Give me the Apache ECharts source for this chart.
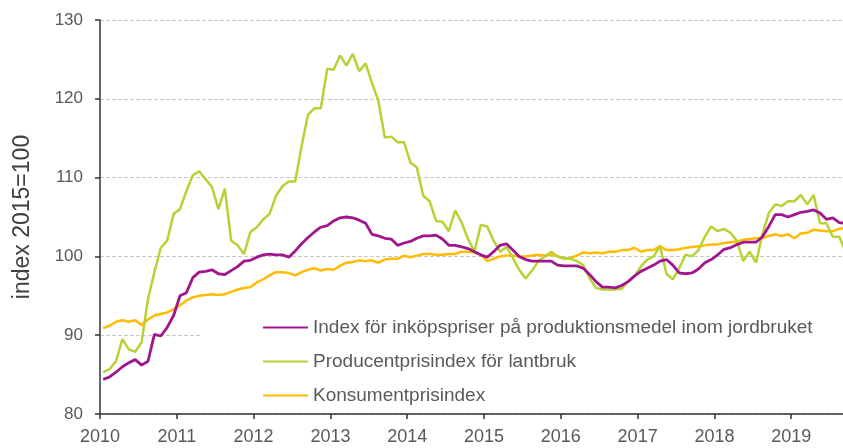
<!DOCTYPE html>
<html>
<head>
<meta charset="utf-8">
<script src="https://cdn.jsdelivr.net/npm/echarts@6/dist/echarts.min.js"></script>
<style>
html,body{margin:0;padding:0;background:#fff;overflow:hidden;}
#chart{width:843px;height:448px;}
</style>
</head>
<body>
<div id="chart"></div>
<script>
// Monthly data, starting January 2010
var startYear = 2010;
var yearTicks = [2010, 2011, 2012, 2013, 2014, 2015, 2016, 2017, 2018, 2019];
var yTicks = [80, 90, 100, 110, 120, 130];

var seriesNames = [
  'Index för inköpspriser på produktionsmedel inom jordbruket',
  'Producentprisindex för lantbruk',
  'Konsumentprisindex'
];

var inkopspriser = [
  84.4, 84.7, 85.3, 86.0, 86.5, 86.9, 86.2, 86.7, 90.1, 89.9, 91.0, 92.5,
  95.0, 95.4, 97.3, 98.0, 98.1, 98.3, 97.8, 97.7, 98.2, 98.7, 99.4, 99.5,
  99.9, 100.2, 100.3, 100.2, 100.2, 99.9, 100.7, 101.6, 102.4, 103.1, 103.7, 103.9,
  104.5, 104.9, 105.0, 104.9, 104.6, 104.2, 102.8, 102.6, 102.3, 102.2, 101.4, 101.7,
  101.9, 102.3, 102.6, 102.6, 102.7, 102.2, 101.4, 101.4, 101.2, 101.0, 100.6, 100.2,
  99.9, 100.6, 101.4, 101.6, 100.8, 100.0, 99.6, 99.4, 99.4, 99.4, 99.4, 98.9,
  98.8, 98.8, 98.8, 98.5, 97.7, 96.8, 96.1, 96.1, 96.0, 96.3, 96.8, 97.5,
  98.1, 98.5, 98.9, 99.4, 99.6, 98.9, 97.9, 97.8, 97.9, 98.4, 99.2, 99.6,
  100.2, 100.9, 101.1, 101.5, 101.8, 101.8, 101.8, 102.5, 103.8, 105.3, 105.3, 105.0,
  105.3, 105.6, 105.7, 105.9, 105.5, 104.7, 104.9, 104.3, 104.2
];

var producentpris = [
  85.3, 85.7, 86.7, 89.5, 88.2, 87.9, 89.1, 94.6, 98.0, 101.1, 102.0, 105.4,
  106.0, 108.3, 110.3, 110.8, 109.8, 108.8, 106.0, 108.6, 102.0, 101.4, 100.3, 103.1,
  103.7, 104.7, 105.4, 107.7, 108.9, 109.5, 109.5, 114.0, 118.0, 118.8, 118.8, 123.8,
  123.7, 125.5, 124.2, 125.7, 123.5, 124.5, 122.0, 119.7, 115.1, 115.2, 114.5, 114.5,
  111.9, 111.3, 107.7, 107.0, 104.5, 104.4, 103.2, 105.8, 104.3, 102.2, 100.6, 104.0,
  103.8, 102.0, 100.6, 101.2, 99.8, 98.3, 97.2, 98.2, 99.4, 100.0, 100.6, 100.0,
  99.8, 99.7, 99.4, 98.9, 97.2, 96.0, 95.8, 95.8, 95.8, 95.9, 96.8, 97.5,
  98.7, 99.6, 100.0, 101.3, 97.8, 97.1, 98.5, 100.2, 100.0, 100.8, 102.5, 103.8,
  103.2, 103.5, 103.0, 102.0, 99.4, 100.6, 99.2, 102.8, 105.5, 106.6, 106.4, 107.0,
  107.0, 107.8, 106.6, 107.8, 104.2, 104.2, 102.5, 102.5, 100.6
];

var konsumentpris = [
  90.9, 91.2, 91.7, 91.9, 91.7, 91.9, 91.3, 92.0, 92.5, 92.7, 92.9, 93.3,
  93.8, 94.4, 94.8, 95.0, 95.1, 95.2, 95.1, 95.2, 95.5, 95.8, 96.0, 96.1,
  96.7, 97.1, 97.6, 98.0, 98.0, 97.9, 97.6, 98.0, 98.3, 98.5, 98.2, 98.4,
  98.3, 98.8, 99.2, 99.3, 99.5, 99.4, 99.5, 99.2, 99.6, 99.7, 99.7, 100.1,
  99.9, 100.1, 100.3, 100.3, 100.2, 100.2, 100.3, 100.3, 100.6, 100.6, 100.5, 100.2,
  99.4, 99.7, 100.0, 100.1, 100.1, 100.0, 100.0, 100.1, 100.2, 100.1, 100.2, 100.0,
  99.7, 99.8, 100.1, 100.5, 100.4, 100.5, 100.4, 100.6, 100.6, 100.8, 100.8, 101.1,
  100.6, 100.8, 100.8, 101.3, 100.8, 100.8, 100.9, 101.1, 101.2, 101.3, 101.4, 101.5,
  101.5, 101.7, 101.8, 101.9, 102.1, 102.2, 102.3, 102.3, 102.6, 102.8, 102.6, 102.8,
  102.3, 102.9, 103.0, 103.4, 103.3, 103.2, 103.2, 103.5, 103.6
];

var colors = ['#a0168f', '#b5d334', '#ffbc00'];

function toPairs(values) {
  return values.map(function (v, i) { return [startYear + (i + 0.5) / 12, v]; });
}

var chart = echarts.init(document.getElementById('chart'), null, {renderer: 'canvas'});
var textColor = '#595959';
var fontFam = '"Liberation Sans", Arial, sans-serif';

chart.setOption({
  animation: false,
  backgroundColor: '#ffffff',
  grid: { left: 100, top: 20, bottom: 34, right: 0 },
  xAxis: {
    type: 'value',
    min: yearTicks[0],
    max: 2019.674,
    interval: 1,
    z: 6,
    axisLine: { show: true, lineStyle: { color: '#333333', width: 1.5 } },
    axisTick: { show: true, length: 5, customValues: yearTicks, lineStyle: { color: '#333333', width: 1.5 } },
    axisLabel: {
      color: textColor, fontSize: 18, fontFamily: fontFam, margin: 14,
      customValues: yearTicks,
      formatter: function (v) { return String(Math.round(v)); }
    },
    splitLine: { show: false }
  },
  yAxis: {
    type: 'value',
    min: yTicks[0],
    max: yTicks[yTicks.length - 1],
    interval: 10,
    name: 'index 2015=100',
    nameLocation: 'middle',
    nameGap: 66,
    nameRotate: 90,
    nameTextStyle: { color: '#404040', fontSize: 23, fontFamily: fontFam },
    axisLine: { show: true, lineStyle: { color: '#333333', width: 1.5 } },
    axisTick: { show: true, length: 5, lineStyle: { color: '#333333', width: 1.5 } },
    axisLabel: { color: textColor, fontSize: 17, fontFamily: fontFam, margin: 17 },
    splitLine: { show: true, lineStyle: { color: '#c8c8c8', type: 'dashed', width: 1 } }
  },
  legend: {
    orient: 'vertical',
    left: 200,
    top: 308,
    padding: [10, 60, 4, 62],
    backgroundColor: '#ffffff',
    itemWidth: 45,
    itemHeight: 14,
    itemGap: 15,
    itemStyle: { opacity: 0 },
    textStyle: { color: textColor, fontSize: 19, fontFamily: fontFam },
    data: seriesNames
  },
  series: [
    { name: seriesNames[2], type: 'line', data: toPairs(konsumentpris), symbol: 'none', z: 2,
      lineStyle: { color: colors[2], width: 2.5 }, itemStyle: { color: colors[2] } },
    { name: seriesNames[1], type: 'line', data: toPairs(producentpris), symbol: 'none', z: 3,
      lineStyle: { color: colors[1], width: 2.5 }, itemStyle: { color: colors[1] } },
    { name: seriesNames[0], type: 'line', data: toPairs(inkopspriser), symbol: 'none', z: 4,
      lineStyle: { color: colors[0], width: 2.8 }, itemStyle: { color: colors[0] } }
  ]
});
</script>
</body>
</html>
